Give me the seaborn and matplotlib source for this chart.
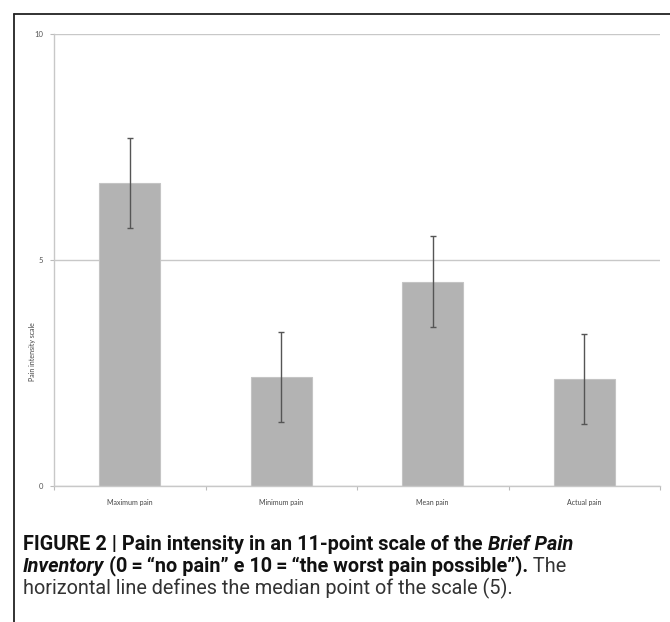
import numpy as np
import pandas as pd
import matplotlib
matplotlib.use("Agg")
import matplotlib.pyplot as plt
import seaborn as sns
from matplotlib.lines import Line2D

# data
categories = ["Maximum pain", "Minimum pain", "Mean pain", "Actual pain"]
values = [6.71, 2.41, 4.52, 2.37]
errors = [1.0, 1.0, 1.0, 1.0]
y_ticks = [0, 5, 10]
y_label = "Pain intensity scale"

df = pd.DataFrame({"category": categories, "value": values})

sns.set_theme(style="white")
plt.rcParams["font.family"] = ["Lato", "DejaVu Sans"]

W, H = 670, 622
fig = plt.figure(figsize=(W / 100, H / 100), dpi=100)
fig.patch.set_facecolor("white")

# axes placed in pixel terms
left, right, top, bottom = 54, 660, 34, 486
ax = fig.add_axes([left / W, 1 - bottom / H, (right - left) / W, (bottom - top) / H])

sns.barplot(data=df, x="category", y="value", order=categories, color="#b3b3b3",
            width=0.4, errorbar=None, saturation=1, edgecolor="#c4c4c4",
            linewidth=0.8, ax=ax, zorder=2)
ax.errorbar(np.arange(len(categories)), values, yerr=errors, fmt="none",
            ecolor="#555555", elinewidth=1.0, capsize=2, capthick=1.0, zorder=3)

ax.set_ylim(0, 10)
ax.set_xlim(-0.5, len(categories) - 0.5)
ax.set_yticks(y_ticks)
ax.set_yticklabels([str(t) for t in y_ticks], fontsize=5.5, color="#555555")
ax.yaxis.grid(True, color="#c8c8c8", linewidth=1.0, zorder=0)
ax.set_axisbelow(True)

# category boundary ticks, labels centred in between
ax.set_xticks(np.arange(-0.5, len(categories), 1.0))
ax.set_xticklabels([])
ax.set_xticks(np.arange(len(categories)), minor=True)
ax.set_xticklabels(categories, minor=True, fontsize=5, color="#444444")
ax.tick_params(axis="x", which="major", direction="out", length=3, width=0.8,
               color="#bbbbbb", bottom=True)
ax.tick_params(axis="x", which="minor", length=0, pad=9)
ax.tick_params(axis="y", direction="out", length=3, width=0.8, color="#bbbbbb",
               left=True, pad=5)

ax.set_xlabel("")
ax.set_ylabel("")
for s in ["top", "right"]:
    ax.spines[s].set_visible(False)
for s in ["left", "bottom"]:
    ax.spines[s].set_color("#c8c8c8")
    ax.spines[s].set_linewidth(1.0)

fig.text(32 / W, 1 - 352 / H, y_label, rotation=90, fontsize=5, color="#444444",
         ha="center", va="center")

# outer frame (left and top edges only show)
fx, fy = 14 / W, 1 - 14 / H
fig.add_artist(Line2D([fx, fx], [0, fy], color="#222222", linewidth=1.3))
fig.add_artist(Line2D([fx, 1], [fy, fy], color="#222222", linewidth=1.3))

# caption
cap_font = ["Liberation Sans Narrow", "Roboto", "DejaVu Sans"]
fs = 14.3
x0 = 23 / W
y1, y2, y3 = 1 - 545 / H, 1 - 566 / H, 1 - 588 / H
dark, mid = "#111111", "#333333"
r = fig.canvas.get_renderer()

t = fig.text(x0, y1, "FIGURE 2 | Pain intensity in an 11-point scale of the ",
             fontsize=fs, fontweight="bold", family=cap_font, va="center", color=dark)
bb = t.get_window_extent(r)
fig.text(bb.x1 / W, y1, "Brief Pain", fontsize=fs, fontweight="bold",
         fontstyle="italic", family=cap_font, va="center", color=dark)

t2 = fig.text(x0, y2, "Inventory", fontsize=fs, fontweight="bold",
              fontstyle="italic", family=cap_font, va="center", color=dark)
bb2 = t2.get_window_extent(r)
t3 = fig.text(bb2.x1 / W, y2,
              " (0\u2009=\u2009\u201cno pain\u201d e 10\u2009=\u2009\u201cthe worst pain possible\u201d).",
              fontsize=fs, fontweight="bold", family=cap_font, va="center", color=dark)
bb3 = t3.get_window_extent(r)
fig.text(bb3.x1 / W, y2, " The", fontsize=fs, family=cap_font,
         va="center", color=mid)
fig.text(x0, y3, "horizontal line defines the median point of the scale (5).",
         fontsize=fs, family=cap_font, va="center", color=mid)

fig.savefig("out.png", dpi=100, facecolor="white")
